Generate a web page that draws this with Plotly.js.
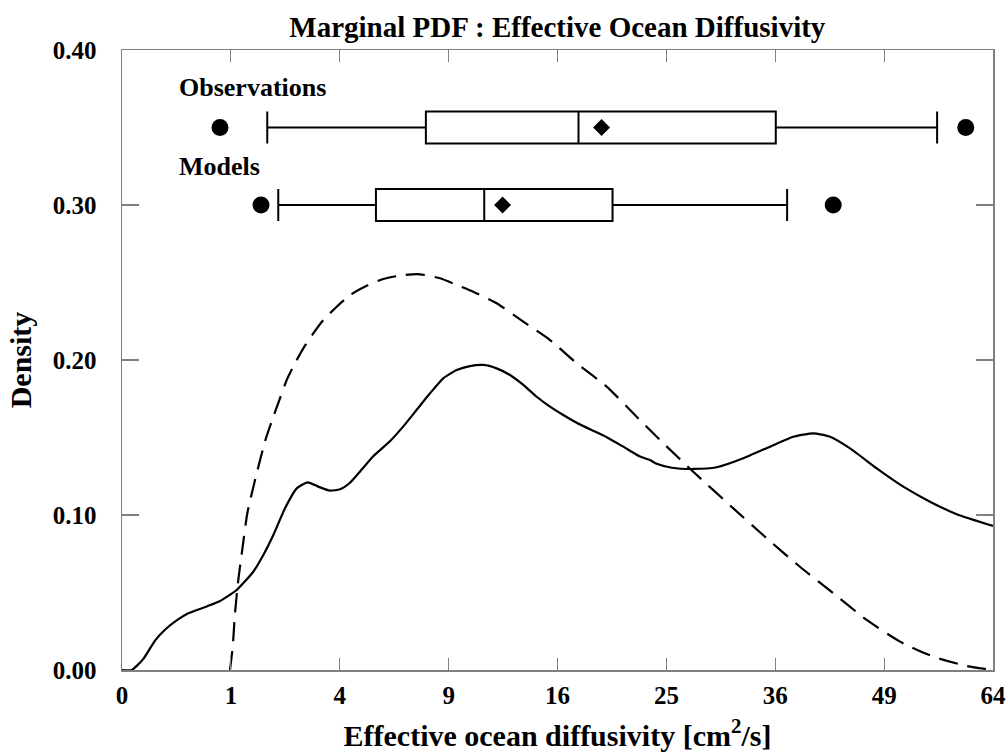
<!DOCTYPE html>
<html>
<head>
<meta charset="utf-8">
<script src="https://cdn.plot.ly/plotly-3.0.1.min.js"></script>
<style>html,body{margin:0;padding:0;background:#fff;}#chart{width:1006px;height:755px;}</style>
</head>
<body>
<div id="chart"></div>
<script>
// x values in cm^2/s (axis is square-root scaled)
const xTickValues = [0, 1, 4, 9, 16, 25, 36, 49, 64];
const xTickLabels = ['0', '1', '4', '9', '16', '25', '36', '49', '64'];
const yTickValues = [0, 0.1, 0.2, 0.3, 0.4];
const yTickLabels = ['0.00', '0.10', '0.20', '0.30', '0.40'];

// Observations: kernel density (solid)
const obsX = [0, 0.008, 0.038, 0.092, 0.156, 0.252, 0.371, 0.605, 0.810, 1.109,
  1.454, 1.685, 1.932, 2.241, 2.576, 2.910, 3.251, 3.648, 4.008, 4.385,
  5.327, 6.056, 6.677, 7.328, 8.003, 8.708, 9.450, 10.214, 11.016, 11.840,
  12.702, 13.587, 14.508, 15.453, 16.427, 17.439, 18.473, 19.820, 21.197, 22.639,
  23.513, 24.118, 25.503, 27.531, 29.833, 32.570, 35.426, 38.020, 40.323, 42.289,
  44.716, 48.053, 51.495, 55.071, 58.783, 64];
const obsDensity = [0, 0, 0.007, 0.019, 0.026, 0.032, 0.0366, 0.041, 0.0445, 0.0516,
  0.0634, 0.0742, 0.0871, 0.1043, 0.1172, 0.1211, 0.1183, 0.1157, 0.1166, 0.1208,
  0.1379, 0.1476, 0.1572, 0.1679, 0.1785, 0.1882, 0.1935, 0.1961, 0.1968, 0.1946,
  0.1903, 0.1839, 0.1763, 0.1699, 0.1645, 0.1595, 0.1553, 0.1502, 0.1441, 0.1377,
  0.1355, 0.1330, 0.1305, 0.1297, 0.1308, 0.1366, 0.1441, 0.1505, 0.1527, 0.1505,
  0.1430, 0.1301, 0.1183, 0.1086, 0.1005, 0.0929];

// Models: fitted density (dashed)
const modX = [0.984, 1.034, 1.077, 1.141, 1.228, 1.325, 1.493, 1.748, 1.932, 2.105,
  2.289, 2.525, 2.772, 3.087, 3.419, 3.889, 4.385, 5.049, 5.760, 6.677,
  7.491, 8.526, 9.450, 10.413, 11.840, 13.587, 15.453, 17.439, 19.820, 22.344,
  24.721, 27.531, 31.528, 35.058, 38.776, 42.680, 46.786, 51.065, 55.532, 60.187, 64];
const modDensity = [0, 0.0150, 0.0366, 0.0581, 0.0795, 0.1011, 0.1226, 0.1495, 0.1634, 0.1753,
  0.1871, 0.1979, 0.2075, 0.2172, 0.2258, 0.2344, 0.2419, 0.2479, 0.2523, 0.2548,
  0.2553, 0.2527, 0.2484, 0.2441, 0.2366, 0.2247, 0.2129, 0.1979, 0.1828, 0.1634,
  0.1463, 0.1279, 0.1043, 0.0850, 0.0666, 0.0495, 0.0323, 0.0183, 0.0086, 0.0026, 0];

// Box plot summaries
const boxNames = ['Observations', 'Models'];
const boxLevels = [0.35, 0.30];
const boxLowerFence = [1.78, 2.06];
const boxQ1 = [7.79, 5.44];
const boxMedian = [17.58, 11.07];
const boxMean = [19.40, 12.22];
const boxQ3 = [36.06, 20.30];
const boxUpperFence = [56.05, 37.32];
const outliersLow = [0.81, 1.63];
const outliersHigh = [60.06, 42.67];

const s = v => Math.sqrt(v);
const FONT = 'Liberation Serif, Times New Roman, serif';

const traces = [];
traces.push({
  type: 'scatter', mode: 'lines', x: modX.map(s), y: modDensity,
  line: {color: 'black', width: 2.2, dash: '19px,10px', shape: 'spline', smoothing: 0.6},
  hoverinfo: 'skip', showlegend: false
});
traces.push({
  type: 'scatter', mode: 'lines', x: obsX.map(s), y: obsDensity,
  line: {color: 'black', width: 2.2, shape: 'spline', smoothing: 0.5},
  hoverinfo: 'skip', showlegend: false
});
for (let i = 0; i < boxNames.length; i++) {
  traces.push({
    type: 'box', orientation: 'h', name: boxNames[i],
    y: [boxLevels[i]],
    lowerfence: [s(boxLowerFence[i])], q1: [s(boxQ1[i])], median: [s(boxMedian[i])],
    q3: [s(boxQ3[i])], upperfence: [s(boxUpperFence[i])],
    width: 0.0205, whiskerwidth: 1, boxpoints: false,
    fillcolor: 'rgba(255,255,255,0)', line: {color: 'black', width: 2},
    hoverinfo: 'skip', showlegend: false
  });
  traces.push({
    type: 'scatter', mode: 'markers', x: [s(boxMean[i])], y: [boxLevels[i]],
    marker: {symbol: 'diamond', size: 13, color: 'black'},
    hoverinfo: 'skip', showlegend: false
  });
  traces.push({
    type: 'scatter', mode: 'markers', x: [s(outliersLow[i]), s(outliersHigh[i])], y: [boxLevels[i], boxLevels[i]],
    marker: {symbol: 'circle', size: 17, color: 'black'},
    hoverinfo: 'skip', showlegend: false
  });
}

const axisCommon = {
  showgrid: false, zeroline: false, showline: true, linecolor: '#808080', linewidth: 1.5,
  mirror: 'ticks', ticks: 'inside', tickcolor: '#808080', tickwidth: 1.2,
  tickfont: {family: FONT, size: 25, color: 'black', weight: 'bold'}
};

const layout = {
  width: 1006, height: 755,
  margin: {l: 122, r: 13, t: 50, b: 85},
  paper_bgcolor: 'white', plot_bgcolor: 'white',
  title: {text: 'Marginal PDF : Effective Ocean Diffusivity',
    font: {family: FONT, size: 29, color: 'black', weight: 'bold'},
    x: 0.554, xanchor: 'center', y: 0.964, yanchor: 'middle'},
  xaxis: Object.assign({}, axisCommon, {
    type: 'linear', range: [0, 8], tickmode: 'array',
    tickvals: xTickValues.map(s), ticktext: xTickLabels, ticklen: 12,
    ticklabelstandoff: 2,
    title: {text: 'Effective ocean diffusivity [cm<sup>2</sup>/s]', standoff: 17,
      font: {family: FONT, size: 30, color: 'black', weight: 'bold'}}
  }),
  yaxis: Object.assign({}, axisCommon, {
    type: 'linear', range: [0, 0.4], tickmode: 'array',
    tickvals: yTickValues, ticktext: yTickLabels, ticklen: 17,
    ticklabelstandoff: 19,
    title: {text: 'Density', standoff: 12,
      font: {family: FONT, size: 30, color: 'black', weight: 'bold'}}
  }),
  annotations: [
    {text: boxNames[0], x: s(0.255), y: 0.3755, xref: 'x', yref: 'y', xanchor: 'left', yanchor: 'middle',
      showarrow: false, font: {family: FONT, size: 26, color: 'black', weight: 'bold'}},
    {text: boxNames[1], x: s(0.255), y: 0.325, xref: 'x', yref: 'y', xanchor: 'left', yanchor: 'middle',
      showarrow: false, font: {family: FONT, size: 26, color: 'black', weight: 'bold'}}
  ]
};

Plotly.newPlot('chart', traces, layout, {displayModeBar: false, staticPlot: true});
</script>
</body>
</html>
